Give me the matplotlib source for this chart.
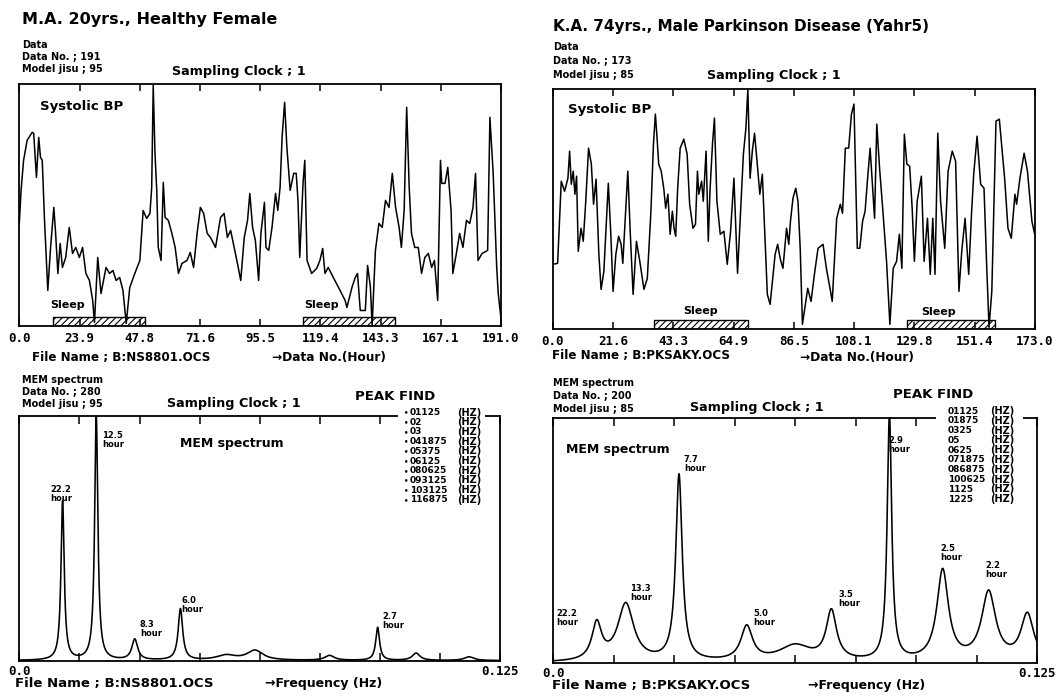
import numpy as np
import matplotlib
matplotlib.use("Agg")
import matplotlib.pyplot as plt
import matplotlib.transforms as mtransforms
from matplotlib.patches import Rectangle

plt.rcParams['font.family'] = ['DejaVu Sans']
plt.rcParams['font.weight'] = 'bold'
plt.rcParams['hatch.linewidth'] = 0.8

W, H = 1057, 696

# --- systolic BP, healthy female (data no., relative level) ---
bp_a_no = [0, 0.7, 1.7, 3.1, 5.1, 5.7, 6.8, 7.7, 8.4, 9.1, 10.0, 11.3, 12.4, 13.7, 14.4,
           15.3, 16.2, 17.1, 18.4, 19.8, 21.1, 22.4, 23.8, 25.1, 26.4, 27.8, 29.1, 29.8,
           31.1, 32.4, 34.4, 35.8, 37.1, 38.4, 39.8, 41.1, 42.4, 43.8, 45.8, 47.8, 49.1,
           50.5, 51.8, 52.5, 53.1, 53.8, 54.5, 55.1, 56.2, 57.1, 57.8, 59.1, 60.5, 61.8,
           63.1, 64.5, 66.5, 67.8, 69.1, 70.5, 71.8, 73.1, 74.5, 75.8, 77.8, 79.8, 81.2,
           82.5, 83.8, 85.2, 86.5, 87.8, 89.2, 90.5, 91.4, 92.5, 93.6, 94.9, 95.8, 97.2,
           97.8, 98.9, 100.2, 101.6, 102.5, 103.4, 104.2, 105.2, 106.1, 107.4, 108.8,
           109.8, 110.5, 111.2, 112.5, 113.2, 114.1, 115.9, 117.9, 119.2, 120.3, 121.2,
           122.5, 124.5, 127.2, 129.2, 129.9, 131.9, 133.2, 134.1, 135.2, 137.2, 138.1,
           139.2, 139.9, 141.2, 142.6, 143.9, 145.2, 146.6, 147.9, 149.2, 150.6, 151.5,
           152.6, 153.6, 154.6, 155.5, 156.8, 158.2, 159.5, 160.8, 162.2, 163.5, 164.6,
           165.9, 167.0, 167.5, 168.8, 169.9, 171.2, 171.9, 173.3, 174.6, 175.9, 177.3,
           178.6, 179.9, 180.9, 181.9, 183.5, 185.7, 186.6, 187.9, 189.3, 189.9, 191.0]
bp_a_val = [103, 136, 166, 186, 194, 193, 149, 189, 169, 166, 106, 36, 79, 119, 93,
            53, 83, 59, 69, 99, 73, 79, 69, 79, 53, 46, 26, 4,
            69, 33, 59, 53, 56, 46, 49, 36, 3, 39, 53, 66, 116,
            108, 113, 139, 241, 173, 136, 79, 66, 144, 109, 106, 93, 79,
            53, 63, 66, 74, 59, 93, 119, 113, 93, 89, 79, 109, 113,
            89, 96, 79, 63, 46, 89, 106, 133, 99, 86, 46, 93, 124,
            79, 76, 99, 133, 116, 139, 189, 224, 179, 136, 153,
            153, 126, 69, 143, 166, 66, 53, 58, 66, 78, 53,
            59, 49, 36, 26, 19, 39, 49, 53, 16, 16, 61,
            40, 1, 76, 103, 99, 126, 119, 153, 119, 99, 79,
            116, 219, 139, 93, 79, 79, 53, 69, 73, 59, 66,
            26, 166, 143, 143, 159, 116, 53, 73, 93, 79, 106,
            103, 119, 153, 66, 73, 76, 209, 153, 59, 33, 8]

# --- systolic BP, Parkinson disease ---
bp_b_no = [0, 1.7, 3.0, 4.2, 5.4, 6.0, 6.6, 7.3, 7.9, 8.5, 9.1, 10.1, 10.9, 11.8, 12.8,
           13.8, 14.6, 15.5, 16.5, 17.3, 18.3, 19.9, 20.8, 21.6, 22.6, 23.6, 24.5, 25.1,
           26.1, 26.9, 27.8, 28.8, 30.0, 31.2, 32.7, 33.9, 35.2, 36.1, 36.8, 37.4, 38.0,
           38.9, 39.8, 40.5, 41.3, 42.1, 42.9, 43.5, 44.1, 44.8, 45.7, 47.0, 48.2, 49.1,
           50.3, 51.2, 51.9, 52.4, 53.4, 54.0, 55.0, 55.8, 56.4, 57.3, 58.0, 58.9, 60.1,
           61.4, 62.6, 63.8, 65.0, 66.3, 67.5, 68.4, 69.3, 70.0, 70.8, 71.6, 72.4, 73.3,
           74.3, 75.2, 76.1, 77.0, 78.0, 79.8, 80.7, 81.6, 82.6, 83.9, 84.7, 85.3, 86.2,
           87.2, 88.0, 88.8, 89.6, 91.5, 92.7, 93.9, 95.2, 97.0, 98.2, 99.5, 100.3, 101.9,
           103.2, 104.0, 105.0, 106.2, 107.2, 108.1, 109.3, 110.2, 111.2, 112.1, 113.0,
           113.9, 114.6, 115.5, 116.3, 117.3, 118.5, 119.8, 121.0, 122.2, 123.4, 124.4,
           125.3, 126.2, 127.1, 128.1, 129.0, 129.8, 130.8, 132.3, 133.3, 134.5, 135.5,
           136.4, 137.2, 138.2, 139.2, 140.7, 141.9, 143.4, 144.6, 145.8, 146.8, 148.0,
           149.3, 150.3, 151.1, 152.3, 153.6, 154.8, 155.7, 156.6, 157.6, 159.1, 160.3,
           162.2, 163.4, 164.6, 165.9, 166.5, 167.7, 169.2, 170.4, 172.0, 173.0]
bp_b_val = [65, 66, 148, 138, 151, 178, 145, 158, 135, 153, 78, 101, 88, 128, 181,
            165, 125, 150, 75, 40, 58, 146, 95, 38, 75, 93, 85, 66,
            118, 158, 95, 35, 88, 68, 40, 51, 118, 185, 215, 191, 165,
            158, 141, 121, 135, 95, 118, 101, 93, 141, 181, 190, 175, 125,
            101, 105, 158, 135, 148, 128, 178, 88, 138, 185, 211, 128, 95,
            98, 65, 98, 151, 56, 125, 175, 201, 240, 151, 178, 196, 168,
            135, 155, 95, 35, 25, 75, 85, 71, 61, 101, 85, 108, 131,
            141, 128, 81, 5, 41, 28, 55, 81, 85, 61, 41, 28, 111,
            125, 116, 181, 181, 215, 225, 81, 81, 108, 118, 151,
            181, 151, 111, 205, 161, 118, 68, 5, 61, 68, 95,
            61, 195, 165, 163, 121, 68, 128, 153, 68, 111, 55,
            111, 55, 196, 128, 81, 158, 178, 168, 38, 78, 111,
            55, 115, 155, 193, 145, 141, 68, 2, 38, 208, 210,
            151, 101, 91, 135, 125, 151, 176, 158, 108, 95]

sleep_a = [(13.4, 49.9), (112.4, 148.9)]
sleep_b = [(36.2, 69.9), (127.1, 158.9)]

ticks_a = [0.0, 23.9, 47.8, 71.6, 95.5, 119.4, 143.3, 167.1, 191.0]
ticks_b = [0.0, 21.6, 43.3, 64.9, 86.5, 108.1, 129.8, 151.4, 173.0]

# --- MEM spectrum peaks (frequency, relative power, half width) ---
peak_a_freq = [0.01125, 0.02, 0.03, 0.041875, 0.05375, 0.06125, 0.080625, 0.093125, 0.103125, 0.116875]
peak_a_power = [0.65, 1.0, 0.085, 0.21, 0.02, 0.04, 0.02, 0.135, 0.03, 0.015]
peak_a_width = [0.0005, 0.0005, 0.0009, 0.0007, 0.003, 0.0025, 0.0015, 0.0006, 0.0012, 0.0015]
peak_a_find = ['01125', '02', '03', '041875', '05375', '06125', '080625', '093125', '103125', '116875']

peak_b_freq = [0.01125, 0.01875, 0.0325, 0.05, 0.0625, 0.071875, 0.086875, 0.100625, 0.1125, 0.1225]
peak_b_power = [0.15, 0.235, 0.76, 0.14, 0.065, 0.20, 1.0, 0.37, 0.28, 0.19]
peak_b_width = [0.0015, 0.0025, 0.0010, 0.0018, 0.005, 0.0016, 0.0007, 0.0018, 0.0022, 0.0020]
peak_b_find = ['01125', '01875', '0325', '05', '0625', '071875', '086875', '100625', '1125', '1225']

# hour labels: (text, left px, top px)
hours_a = [('22.2', 50, 485), ('12.5', 102, 431), ('8.3', 140, 620), ('6.0', 181, 596), ('2.7', 382, 612)]
hours_b = [('22.2', 556, 609), ('13.3', 630, 584), ('7.7', 684, 455), ('5.0', 753, 609),
           ('3.5', 838, 590), ('2.9', 888, 436), ('2.5', 940, 544), ('2.2', 985, 561)]

fig = plt.figure(figsize=(W / 100, H / 100), dpi=100)
fig.set_facecolor('white')


def box(x0, y0, x1, y1):
    ax = fig.add_axes([x0 / W, 1 - y1 / H, (x1 - x0) / W, (y1 - y0) / H])
    for sp in ax.spines.values():
        sp.set_linewidth(1.3)
    ax.set_yticks([])
    return ax


def put(x, y, s, size, **kw):
    kw.setdefault('va', 'center')
    return fig.text(x / W, 1 - y / H, s, fontsize=size, fontweight='bold', **kw)


def bp_panel(ax, no, val, ticks, sleeps, top, bar_h):
    ax.plot(no, val, color='black', lw=1.1)
    ax.set_xlim(0, ticks[-1])
    ax.set_ylim(0, top)
    ax.set_xticks(ticks)
    ax.set_xticklabels([f'{t:.1f}' for t in ticks], fontfamily='DejaVu Sans Mono',
                       fontsize=9, fontweight='bold')
    ax.tick_params(axis='x', direction='in', top=True, length=5, width=1.1, pad=4)
    trans = mtransforms.blended_transform_factory(ax.transData, ax.transAxes)
    for a, b in sleeps:
        ax.add_patch(Rectangle((a, 0), b - a, bar_h, transform=trans, fill=False,
                               hatch='/////', lw=1.0, edgecolor='black'))


def mem_panel(ax, freq, power, width):
    f = np.linspace(0, 0.125, 4000)
    s = np.zeros_like(f)
    for f0, a, w in zip(freq, power, width):
        s += a / (1 + ((f - f0) / w) ** 2)
    ax.plot(f, s, color='black', lw=1.15)
    ax.set_xlim(0, 0.125)
    ax.set_ylim(0, 1.0)
    ax.set_xticks(np.linspace(0, 0.125, 9))
    ax.set_xticklabels(['0.0'] + [''] * 7 + ['0.125'], fontfamily='DejaVu Sans Mono',
                       fontsize=9, fontweight='bold')
    ax.tick_params(axis='x', direction='in', top=True, length=6, width=1.1, pad=3)


# ---------- top left ----------
ax1 = box(19.3, 84.3, 501, 326.5)
bp_panel(ax1, bp_a_no, bp_a_val, ticks_a, sleep_a, 242, 0.041)
put(22, 19.5, 'M.A. 20yrs., Healthy Female', 11.5)
put(22, 44.5, 'Data', 7)
put(22, 57, 'Data No. ; 191', 7)
put(22, 69, 'Model jisu ; 95', 7)
put(172, 71, 'Sampling Clock ; 1', 9.2)
put(40, 106.5, 'Systolic BP', 9.5)
put(67.6, 305, 'Sleep', 8, ha='center')
put(322, 305, 'Sleep', 8, ha='center')
put(32, 358, 'File Name ; B:NS8801.OCS', 8.6)
put(272, 358, '\u2192Data No.(Hour)', 8.7)

# ---------- top right ----------
ax2 = box(552.9, 89.1, 1034.7, 329.4)
bp_panel(ax2, bp_b_no, bp_b_val, ticks_b, sleep_b, 240, 0.039)
put(553, 26, 'K.A. 74yrs., Male Parkinson Disease (Yahr5)', 11)
put(553, 46.5, 'Data', 7)
put(553, 60.5, 'Data No. ; 173', 7)
put(553, 75, 'Model jisu ; 85', 7)
put(707, 76, 'Sampling Clock ; 1', 9.2)
put(568, 110, 'Systolic BP', 9.5)
put(701, 310.5, 'Sleep', 8, ha='center')
put(939, 312, 'Sleep', 8, ha='center')
put(552, 356, 'File Name ; B:PKSAKY.OCS', 8.6)
put(800, 358, '\u2192Data No.(Hour)', 8.7)

# ---------- bottom left ----------
ax3 = box(19.3, 416, 500.3, 660.6)
mem_panel(ax3, peak_a_freq, peak_a_power, peak_a_width)
put(22, 380, 'MEM spectrum', 7)
put(22, 392, 'Data No. ; 280', 7)
put(22, 404, 'Model jisu ; 95', 7)
put(167, 404, 'Sampling Clock ; 1', 9.2)
put(355, 396, 'PEAK FIND', 9.5)
put(180, 443, 'MEM spectrum', 9)
for lab, x, y in hours_a:
    put(x, y, lab + '\nhour', 6, va='top', linespacing=1.05)
fig.add_artist(Rectangle((398 / W, 1 - 425 / H), 87 / W, 21 / H, transform=fig.transFigure,
                         facecolor='white', edgecolor='none', zorder=5))
for i, p in enumerate(peak_a_find):
    y = 412.5 + i * 9.7
    put(404, y, '\u2022', 5, zorder=6)
    put(410, y, p, 6.5, zorder=6)
    put(457, y, '(HZ)', 7, zorder=6)
put(15, 684, 'File Name ; B:NS8801.OCS', 9.5)
put(265, 684, '\u2192Frequency (Hz)', 9)

# ---------- bottom right ----------
ax4 = box(553.2, 418, 1037, 662.8)
mem_panel(ax4, peak_b_freq, peak_b_power, peak_b_width)
put(553, 383, 'MEM spectrum', 7)
put(553, 396, 'Data No. ; 200', 7)
put(553, 409, 'Model jisu ; 85', 7)
put(690, 408, 'Sampling Clock ; 1', 9.2)
put(893, 395, 'PEAK FIND', 9.5)
put(566, 449, 'MEM spectrum', 9)
for lab, x, y in hours_b:
    put(x, y, lab + '\nhour', 6, va='top', linespacing=1.05)
fig.add_artist(Rectangle((936 / W, 1 - 427 / H), 87 / W, 21 / H, transform=fig.transFigure,
                         facecolor='white', edgecolor='none', zorder=5))
for i, p in enumerate(peak_b_find):
    y = 411 + i * 9.8
    put(948, y, p, 6.5, zorder=6)
    put(990, y, '(HZ)', 7, zorder=6)
put(552, 685, 'File Name ; B:PKSAKY.OCS', 9.5)
put(808, 685, '\u2192Frequency (Hz)', 9)

fig.savefig('out.png', dpi=100, facecolor='white')
